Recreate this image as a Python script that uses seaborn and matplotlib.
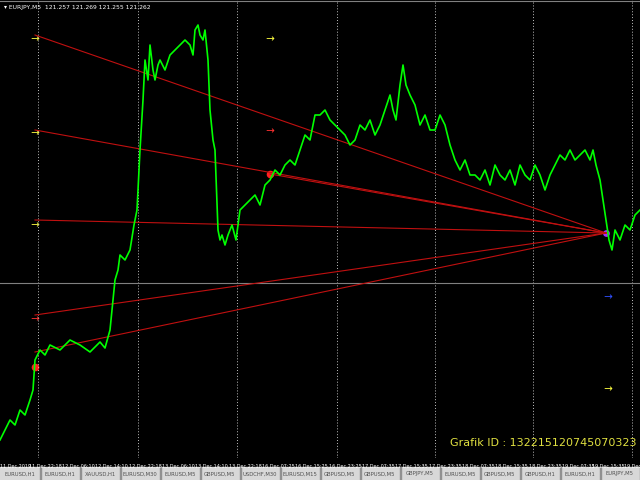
import matplotlib
matplotlib.use("Agg")
import matplotlib.pyplot as plt
import seaborn as sns
import pandas as pd
from matplotlib.patches import Rectangle

# price path (bar index, price level in chart units; higher level = lower on screen)
bar_idx = [0,5,10,15,20,25,30,33,35,40,45,50,60,70,80,90,100,105,110,113,115,118,120,125,130,134,137,140,143,145,148,150,153,155,158,160,165,170,175,180,185,190,193,195,198,200,203,205,208,210,213,215,218,220,222,225,228,232,236,240,245,250,255,260,265,270,275,280,285,290,295,300,305,310,315,320,325,330,335,340,345,350,355,360,365,370,375,380,385,390,393,396,400,403,406,410,415,420,425,430,435,440,445,450,455,460,465,470,475,480,485,490,495,500,505,510,515,520,525,530,535,540,545,550,555,560,565,570,575,580,585,590,593,596,600,603,606,609,612,615,620,625,630,635,640]
level = [440,430,420,425,410,415,400,390,360,350,355,345,350,340,345,352,342,348,330,300,280,270,255,260,250,225,210,150,100,60,80,45,70,80,65,60,70,55,50,45,40,45,55,30,25,35,40,30,60,110,140,150,230,240,235,245,235,225,240,210,205,200,195,205,185,180,170,175,165,160,165,150,135,140,115,115,110,120,125,130,135,145,140,125,130,120,135,125,110,95,110,120,85,65,85,95,105,125,115,130,130,115,125,145,160,170,160,175,175,180,170,185,165,175,180,170,185,165,175,180,165,175,190,175,165,155,160,150,160,155,150,160,150,165,180,200,220,240,250,230,240,225,230,215,210]

line_start_x = [35,35,35,35,35,270]
line_start_y = [35,130,220,315,352,174]
end_x, end_y = 606, 233

yellow_x = [35,35,35,270,608]; yellow_y = [38,132,224,38,388]
red_arr_x = [35,270]; red_arr_y = [318,130]
blue_x = [608]; blue_y = [296]
dot_x = [35,270]; dot_y = [367,174]

vlines = [38,138,237,337,435,533,632]
tick_x = [12,45,78,111,145,178,211,245,278,311,345,378,411,445,478,511,545,578,608,641]
tick_lab = ["11 Dec 2019","11 Dec 22:18","12 Dec 06:10","12 Dec 14:10","12 Dec 22:18","13 Dec 06:10",
            "13 Dec 14:10","13 Dec 22:18","16 Dec 07:25","16 Dec 15:25","16 Dec 23:25","17 Dec 07:35",
            "17 Dec 15:35","17 Dec 23:35","18 Dec 07:35","18 Dec 15:35","18 Dec 23:35","19 Dec 07:35",
            "19 Dec 15:35","19 Dec"]
tabs = ["EURUSD,H1","EURUSD,H1","XAUUSD,H1","EURUSD,M30","EURUSD,M5","GBPUSD,M5","USDCHF,M30",
        "EURUSD,M15","GBPUSD,M5","GBPUSD,M5","GBPJPY,M5","EURUSD,M5","GBPUSD,M5","GBPUSD,H1","EURUSD,H1","EURJPY,M5"]

fig = plt.figure(figsize=(6.4,4.8), dpi=100, facecolor="black")
ax = fig.add_axes([0, 22/480, 1, 458/480])
ax.set_facecolor("black")
ax.set_xlim(0,640); ax.set_ylim(458,0)
for s in ax.spines.values(): s.set_visible(False)
ax.set_xticks([]); ax.set_yticks([])

for v in vlines:
    ax.axvline(v, color="#c0c0c0", ls=(0,(1,2)), lw=0.7)
ax.axhline(283, color="#808080", lw=0.8)
ax.axhline(1, color="#808080", lw=0.8)

for sx, sy in zip(line_start_x, line_start_y):
    ax.plot([sx,end_x],[sy,end_y], color="#c01010", lw=0.8)

df = pd.DataFrame({"x":bar_idx,"y":level})
sns.lineplot(data=df, x="x", y="y", ax=ax, color="#00ff00", lw=1.2)
ax.set_xlabel(""); ax.set_ylabel("")

arrow = r"$\rightarrow$"
ax.scatter(yellow_x, yellow_y, marker=arrow, color="#ffff40", s=30, linewidths=0)
ax.scatter(red_arr_x, red_arr_y, marker=arrow, color="#ff3030", s=30, linewidths=0)
ax.scatter(blue_x, blue_y, marker=arrow, color="#3050ff", s=30, linewidths=0)
ax.scatter(dot_x, dot_y, marker="o", color="#ff2020", s=20)
ax.scatter([end_x],[end_y], marker="o", color="#a030ff", s=15)

ax.text(4, 8, "▾ EURJPY,M5  121.257 121.269 121.255 121.262", color="white", fontsize=4.3, va="center")
ax.text(636, 443, "Grafik ID : 132215120745070323", color="#e0e040", fontsize=8, ha="right", va="center")

for i, (tx, tl) in enumerate(zip(tick_x, tick_lab)):
    ha = "left" if i == 0 else ("right" if i == len(tick_x)-1 else "center")
    if i == 0: tx = 0
    fig.text(tx/640, 1-466/480, tl, color="white", fontsize=3.5, ha=ha, va="center")
fig.patches.append(Rectangle((0,0),1,13/480, transform=fig.transFigure, color="#d8d8d8"))
w = 640/len(tabs)
for i, t in enumerate(tabs):
    fig.text((i*w+w/2)/640, 6/480, t, color="#505050", fontsize=3.8, ha="center", va="center")
    fig.patches.append(Rectangle(((i+1)*w/640, 0), 0.8/640, 13/480, transform=fig.transFigure, color="#909090"))

fig.savefig("out.png", dpi=100, facecolor="black")
